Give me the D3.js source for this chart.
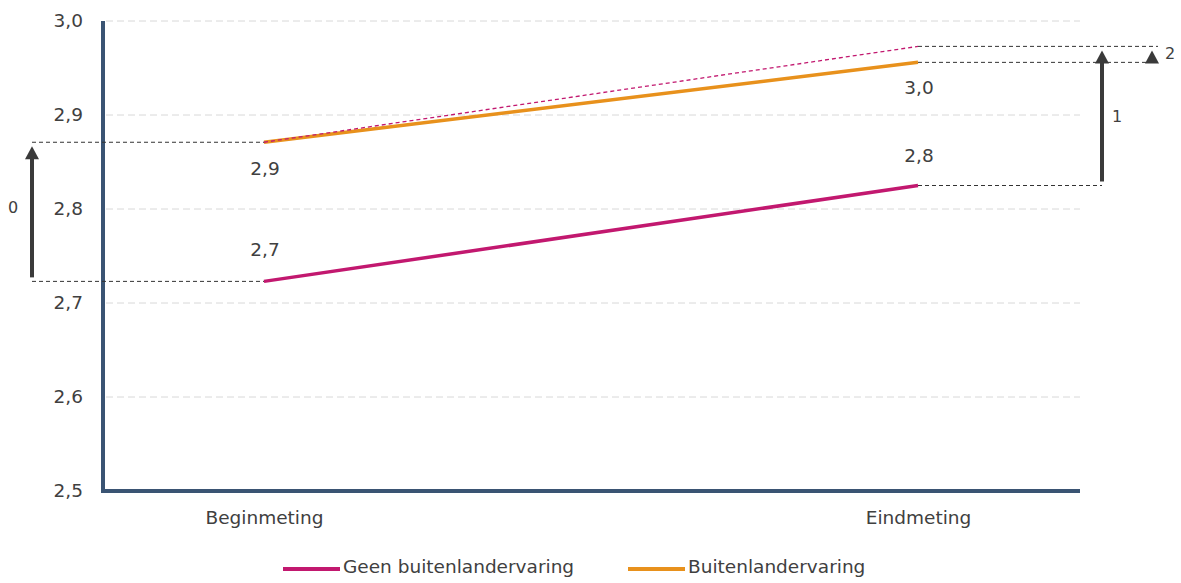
<!DOCTYPE html>
<html>
<head>
<meta charset="utf-8">
<script src="https://cdn.jsdelivr.net/npm/d3@7"></script>
<style>
  html, body { margin: 0; padding: 0; background: #ffffff; }
  svg { display: block; font-family: "DejaVu Sans", Verdana, sans-serif; }
</style>
</head>
<body>
<svg id="chart" width="1181" height="583"></svg>
<script>
// Measurements
const categories = ["Beginmeting", "Eindmeting"];
const geenValues = [2.723, 2.825];     // Geen buitenlandervaring
const buitenValues = [2.871, 2.956];   // Buitenlandervaring
const yTicks = [2.5, 2.6, 2.7, 2.8, 2.9, 3.0];
const seriesNames = ["Geen buitenlandervaring", "Buitenlandervaring"];
const arrowLabels = ["0", "1", "2"];

// Expected end score for the group with foreign experience if it had grown like the other group
const expectedEnd = buitenValues[0] + (geenValues[1] - geenValues[0]);

const colors = { geen: "#c2186f", buiten: "#e8911c", axis: "#3a5473", text: "#404040", arrow: "#3a3a3a" };
const fmt = v => d3.format(".1f")(v).replace(".", ",");
const fontSize = "18.5px";

const svg = d3.select("#chart");

const x = d3.scalePoint().domain(categories).range([264, 918]);
const y = d3.scaleLinear().domain([2.5, 3.0]).range([491, 21]);

const plotLeft = 103, plotRight = 1080;

// Horizontal gridlines
svg.append("g")
  .selectAll("line")
  .data(yTicks.filter(t => t > 2.5))
  .join("line")
  .attr("x1", plotLeft + 3).attr("x2", plotRight)
  .attr("y1", d => y(d)).attr("y2", d => y(d))
  .attr("stroke", "#d8d8d8").attr("stroke-width", 1)
  .attr("stroke-dasharray", "7,4");

// Y axis labels
const yAxis = d3.axisLeft(y).tickValues(yTicks).tickFormat(fmt).tickSize(0).tickPadding(20);
const gy = svg.append("g").attr("transform", `translate(${plotLeft},0)`).call(yAxis);
gy.select(".domain").remove();
gy.selectAll("text")
  .attr("fill", colors.text)
  .style("font-size", fontSize)
  .style("font-family", "\"DejaVu Sans\", sans-serif");

// X axis labels
const xAxis = d3.axisBottom(x).tickSize(0).tickPadding(20);
const gx = svg.append("g").attr("transform", `translate(0,${y(2.5)})`).call(xAxis);
gx.select(".domain").remove();
gx.selectAll("text")
  .attr("fill", colors.text)
  .style("font-size", fontSize)
  .style("font-family", "\"DejaVu Sans\", sans-serif");

// Axis frame (left and bottom)
svg.append("path")
  .attr("d", `M${plotLeft},${y(3.0)}V${y(2.5)}H${plotRight}`)
  .attr("fill", "none")
  .attr("stroke", colors.axis)
  .attr("stroke-width", 4);

// Black dashed reference lines
const refLines = [
  { x1: 32, x2: x(categories[0]), v: buitenValues[0] },
  { x1: 32, x2: x(categories[0]), v: geenValues[0] },
  { x1: x(categories[1]), x2: 1102, v: geenValues[1] },
  { x1: x(categories[1]), x2: 1158, v: buitenValues[1] },
  { x1: x(categories[1]), x2: 1158, v: expectedEnd }
];
svg.append("g")
  .selectAll("line")
  .data(refLines)
  .join("line")
  .attr("x1", d => d.x1).attr("x2", d => d.x2)
  .attr("y1", d => y(d.v)).attr("y2", d => y(d.v))
  .attr("stroke", "#333").attr("stroke-width", 1)
  .attr("stroke-dasharray", "4,3");

// Series lines
const line = d3.line().x((d, i) => x(categories[i])).y(d => y(d));
svg.append("path").datum(geenValues)
  .attr("d", line).attr("fill", "none")
  .attr("stroke", colors.geen).attr("stroke-width", 3.5);
svg.append("path").datum(buitenValues)
  .attr("d", line).attr("fill", "none")
  .attr("stroke", colors.buiten).attr("stroke-width", 3.5);

// Expected trajectory (dashed)
svg.append("path").datum([buitenValues[0], expectedEnd])
  .attr("d", line).attr("fill", "none")
  .attr("stroke", colors.geen).attr("stroke-width", 1.3)
  .attr("stroke-dasharray", "4,3");

// Value labels
const valueLabels = [
  { c: 0, v: buitenValues[0], dy: 28 },
  { c: 0, v: geenValues[0], dy: -30 },
  { c: 1, v: buitenValues[1], dy: 27 },
  { c: 1, v: geenValues[1], dy: -29 }
];
svg.append("g")
  .selectAll("text")
  .data(valueLabels)
  .join("text")
  .attr("x", d => x(categories[d.c]) + 1)
  .attr("y", d => y(d.v) + d.dy)
  .attr("text-anchor", "middle")
  .attr("dominant-baseline", "middle")
  .attr("fill", colors.text)
  .style("font-size", fontSize)
  .text(d => fmt(d.v));

// Difference arrows
const arrows = [
  { x: 32, from: geenValues[0], to: buitenValues[0], label: arrowLabels[0], lx: 13, ly: 208 },
  { x: 1102, from: geenValues[1], to: expectedEnd, label: arrowLabels[1], lx: 1117, ly: 117 },
  { x: 1152, from: buitenValues[1], to: expectedEnd, label: arrowLabels[2], lx: 1170, ly: 54 }
];
const ga = svg.append("g");
arrows.forEach(a => {
  const y0 = y(a.from) - 4;
  const tip = y(a.to) + 4;
  const headH = 13, headW = 7;
  if (y0 - tip > headH) {
    ga.append("line")
      .attr("x1", a.x).attr("x2", a.x)
      .attr("y1", y0).attr("y2", tip + headH - 1)
      .attr("stroke", colors.arrow).attr("stroke-width", 4);
  }
  ga.append("path")
    .attr("d", `M${a.x},${tip}L${a.x + headW},${tip + headH}L${a.x - headW},${tip + headH}Z`)
    .attr("fill", colors.arrow);
  ga.append("text")
    .attr("x", a.lx).attr("y", a.ly)
    .attr("text-anchor", "middle")
    .attr("dominant-baseline", "middle")
    .attr("fill", colors.text)
    .style("font-size", "16px")
    .text(a.label);
});

// Legend
const legend = [
  { name: seriesNames[0], color: colors.geen, x: 283 },
  { name: seriesNames[1], color: colors.buiten, x: 628 }
];
const gl = svg.append("g");
legend.forEach(l => {
  gl.append("line")
    .attr("x1", l.x).attr("x2", l.x + 57)
    .attr("y1", 569).attr("y2", 569)
    .attr("stroke", l.color).attr("stroke-width", 4);
  gl.append("text")
    .attr("x", l.x + 60).attr("y", 568)
    .attr("dominant-baseline", "middle")
    .attr("fill", colors.text)
    .style("font-size", fontSize)
    .text(l.name);
});
</script>
</body>
</html>
